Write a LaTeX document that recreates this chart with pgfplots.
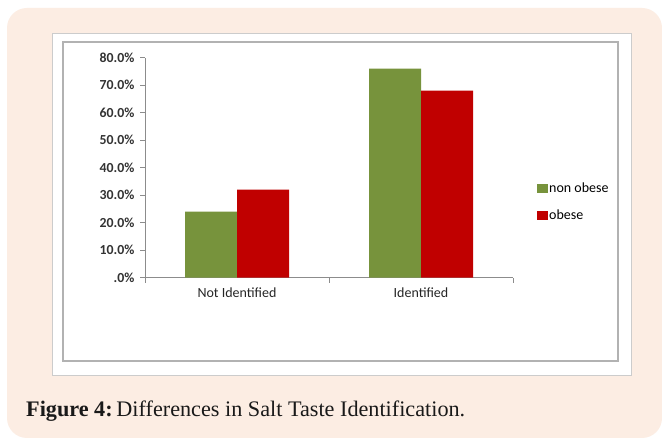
\documentclass[border=0pt]{standalone}
\usepackage{fontspec}
\setmainfont{Liberation Serif}
\newfontfamily\calibri{Carlito}
\usepackage{pgfplots}
\pgfplotsset{compat=1.18}
\definecolor{peach}{HTML}{FCEDE3}
\definecolor{ogreen}{HTML}{77933C}
\definecolor{dred}{HTML}{C00000}
\begin{document}
\begin{tikzpicture}
\useasboundingbox (0,0) rectangle (662pt,439pt);
\fill[white] (0,0) rectangle (662pt,439pt);
\fill[peach, rounded corners=20pt] (7pt,1pt) rectangle (662pt,431pt);
\filldraw[fill=white, draw=black!20, line width=0.6pt] (52pt,64pt) rectangle (631pt,406pt);
\draw[black!30, line width=2pt] (63pt,78pt) rectangle (618pt,397pt);
\begin{axis}[
  at={(145pt,161.3pt)}, anchor=south west,
  scale only axis, width=368pt, height=220pt,
  ybar=0pt, bar width=52pt,
  xmin=0, xmax=2, ymin=0, ymax=80,
  xtick={0,1,2}, xticklabels={Not Identified,Identified,},
  x tick label as interval,
  ytick={0,10,...,80},
  yticklabels={.0\%,10.0\%,20.0\%,30.0\%,40.0\%,50.0\%,60.0\%,70.0\%,80.0\%},
  axis x line=bottom, axis y line=left,
  axis line style={-, draw=black!45, line width=0.6pt},
  tick align=outside, major tick length=5pt,
  tick style={black!45, line width=0.6pt},
  xticklabel style={font=\calibri\fontsize{14}{15}\selectfont, text=black!85, yshift=-2pt},
  yticklabel style={font=\calibri\bfseries\fontsize{13.8}{15}\selectfont, text=black!80, xshift=-2pt},
  legend style={draw=none, fill=none, at={(1.057,0.345)}, anchor=west,
    font=\calibri\fontsize{14}{15}\selectfont, row sep=13.5pt,
    nodes={inner sep=1pt}},
  legend cell align=left,
  legend image code/.code={\fill[#1] (0pt,-4.5pt) rectangle (11pt,4.5pt);},
]
\addplot[fill=ogreen, draw=none] coordinates {(0.5,24) (1.5,76)};
\addplot[fill=dred, draw=none] coordinates {(0.5,32) (1.5,68)};
\legend{non obese, obese}
\end{axis}
\node[anchor=base west, inner sep=0, text=black!90] at (26pt,22pt) {\fontsize{22.2}{24}\selectfont\textbf{Figure 4:}\,Differences in Salt Taste Identification.};
\end{tikzpicture}
\end{document}
